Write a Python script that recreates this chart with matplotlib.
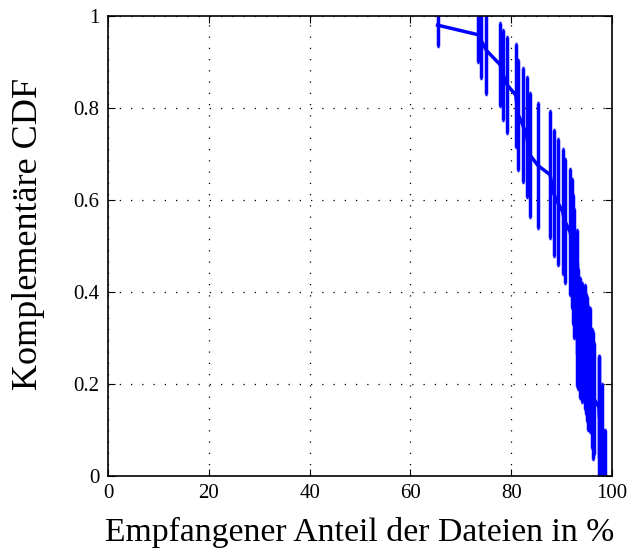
import matplotlib
matplotlib.use("Agg")
import matplotlib.pyplot as plt

plt.rcParams['font.family'] = ['Liberation Serif', 'DejaVu Serif']
plt.rcParams['mathtext.fontset'] = 'stix'

# Empfangener Anteil (%), Komplementaere CDF, Fehlerbalken (halbe Laenge)
anteil = [65.4, 73.5, 74.1, 75.1, 77.8, 78.4, 79.2, 80.9, 81.4, 82.3,
          83.1, 83.7, 85.3, 87.7, 88.4, 89.2, 90.2, 90.6, 91.7, 92.1,
          92.3, 92.5, 93.0, 93.0, 93.3, 93.65, 94.0, 94.6, 94.8, 95.1,
          95.3, 95.6, 95.97, 96.2, 96.4, 97.4, 97.5, 97.95, 98.3, 98.6]
ccdf = [0.980, 0.959, 0.945, 0.925, 0.894, 0.872, 0.850, 0.828, 0.785, 0.763,
        0.737, 0.698, 0.675, 0.655, 0.615, 0.595, 0.575, 0.555, 0.530, 0.505,
        0.470, 0.440, 0.400, 0.330, 0.320, 0.300, 0.290, 0.280, 0.265, 0.255,
        0.235, 0.230, 0.190, 0.175, 0.168, 0.150, 0.130, 0.090, 0.050, 0.000]
fehler = [0.045, 0.060, 0.080, 0.095, 0.090, 0.098, 0.105, 0.112, 0.120, 0.123,
          0.130, 0.134, 0.135, 0.138, 0.137, 0.137, 0.135, 0.135, 0.137, 0.140,
          0.140, 0.140, 0.135, 0.135, 0.130, 0.130, 0.130, 0.135, 0.130, 0.135,
          0.135, 0.135, 0.130, 0.138, 0.120, 0.110, 0.130, 0.110, 0.050, 0.100]

fig = plt.figure(figsize=(6.28, 5.59), dpi=100)
ax = fig.add_axes([0.172, 0.1485, 0.8025, 0.823])

ax.errorbar(anteil, ccdf, yerr=fehler, color='#0000ff', lw=2.5,
            elinewidth=2.5, capsize=1, capthick=2.5, clip_on=True)

ax.set_xlim(0, 100)
ax.set_ylim(0, 1)
ax.set_xticks([0, 20, 40, 60, 80, 100])
ax.set_yticks([0, 0.2, 0.4, 0.6, 0.8, 1])
ax.set_yticklabels(['0', '0.2', '0.4', '0.6', '0.8', '1'])
ax.grid(True, color='black', linestyle=(0, (1, 8)), linewidth=0.9)
ax.tick_params(direction='in', top=True, right=True, length=5,
               labelsize=15, pad=6)
for s in ax.spines.values():
    s.set_linewidth(1.2)

ax.set_xlabel('Empfangener Anteil der Dateien in %', fontsize=24.3, labelpad=10)
ax.set_ylabel('Komplementäre CDF', fontsize=26)
ax.yaxis.set_label_coords(-0.126, 0.525)

fig.savefig('out.png', dpi=100)
